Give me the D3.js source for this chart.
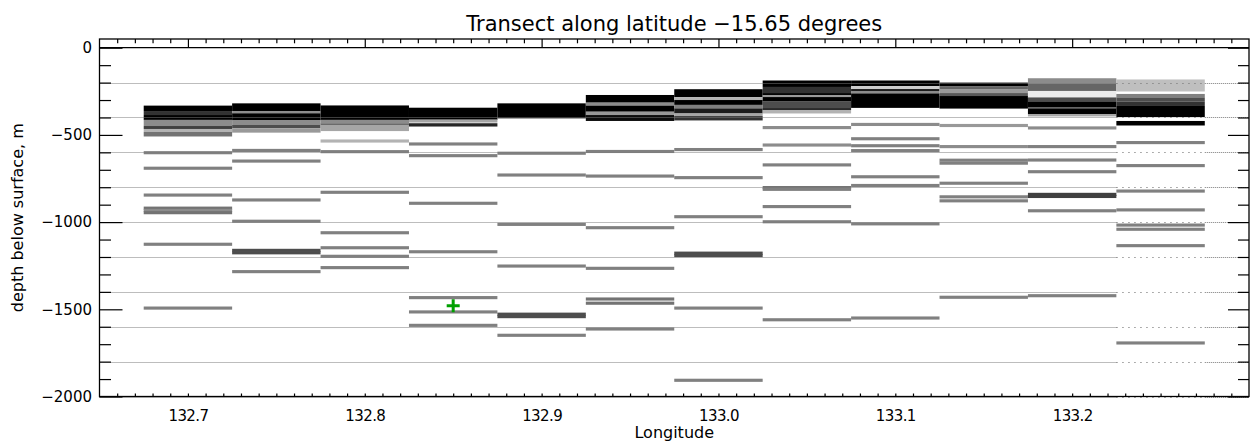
<!DOCTYPE html>
<html>
<head>
<meta charset="utf-8">
<script src="https://cdn.jsdelivr.net/npm/d3@7"></script>
<style>
  body { margin: 0; background: #fff; }
  svg text { font-family: "DejaVu Sans", sans-serif; fill: #000; }
</style>
</head>
<body>
<div id="chart-container"></div>
<script>
'use strict';

// column centres (degrees east), each column is 0.05 deg wide
const longitudes = [132.70, 132.75, 132.80, 132.85, 132.90, 132.95,
  133.00, 133.05, 133.10, 133.15, 133.20, 133.25];

// dense upper layers per column: [top depth, bottom depth, shade 0..1]
const upperBands = [
  [[-332, -363, 1], [-363, -386, 0.8], [-386, -414, 1], [-414, -449, 0.45], [-449, -466, 0.75], [-466, -483, 0.3], [-483, -509, 0.55]],
  [[-319, -363, 1], [-363, -376, 0.45], [-376, -417, 1], [-417, -443, 0.45], [-443, -462, 0.7], [-462, -487, 0.4]],
  [[-331, -414, 1], [-414, -433, 0.45], [-433, -443, 0.6], [-443, -478, 0.35]],
  [[-344, -414, 1], [-433, -452, 0.85]],
  [[-319, -405, 1]],
  [[-271, -315, 1], [-315, -332, 0.45], [-332, -367, 1], [-367, -386, 0.4], [-386, -420, 0.95]],
  [[-238, -283, 1], [-283, -300, 0.3], [-300, -328, 1], [-328, -348, 0.5], [-348, -377, 0.9], [-377, -392, 0.35], [-392, -417, 0.8]],
  [[-188, -225, 1], [-225, -260, 0.8], [-260, -271, 1], [-271, -283, 0.4], [-283, -306, 1], [-306, -346, 0.7], [-346, -357, 0.85], [-357, -377, 0.3]],
  [[-188, -220, 1], [-220, -237, 0.2], [-237, -251, 0.9], [-251, -262, 0.45], [-262, -345, 1]],
  [[-200, -220, 1], [-220, -237, 0.6], [-237, -260, 0.4], [-260, -277, 0.65], [-277, -349, 1]],
  [[-175, -208, 0.45], [-208, -248, 0.6], [-248, -285, 0.08], [-285, -308, 0.7], [-308, -340, 1], [-340, -348, 0.6], [-348, -380, 1], [-380, -394, 0.35]],
  [[-182, -251, 0.25], [-265, -285, 0.5], [-285, -308, 0.7], [-308, -334, 0.8], [-334, -398, 1], [-420, -446, 1]]
];

// single deeper layers per column: [depth, shade 0..1]
const deepLayers = [
  [[-602, 0.5], [-691, 0.5], [-845, 0.5], [-920, 0.55], [-933, 0.45], [-946, 0.55], [-1127, 0.5], [-1493, 0.5]],
  [[-589, 0.5], [-650, 0.5], [-873, 0.5], [-995, 0.5], [-1162, 0.7], [-1176, 0.7], [-1284, 0.5]],
  [[-535, 0.3], [-596, 0.5], [-829, 0.5], [-1061, 0.5], [-1147, 0.5], [-1196, 0.5], [-1261, 0.5]],
  [[-420, 0.35], [-552, 0.5], [-619, 0.5], [-892, 0.5], [-1170, 0.5], [-1433, 0.5], [-1515, 0.5], [-1592, 0.5]],
  [[-605, 0.5], [-730, 0.5], [-1013, 0.5], [-1252, 0.5], [-1528, 0.7], [-1542, 0.7], [-1649, 0.5]],
  [[-595, 0.5], [-736, 0.5], [-1032, 0.5], [-1265, 0.5], [-1441, 0.55], [-1465, 0.55], [-1613, 0.5]],
  [[-584, 0.5], [-745, 0.5], [-969, 0.5], [-1178, 0.7], [-1192, 0.7], [-1493, 0.5], [-1907, 0.5]],
  [[-458, 0.45], [-558, 0.45], [-672, 0.5], [-802, 0.55], [-812, 0.5], [-911, 0.5], [-998, 0.5], [-1560, 0.5]],
  [[-440, 0.45], [-522, 0.5], [-562, 0.5], [-590, 0.5], [-740, 0.5], [-790, 0.5], [-1010, 0.5], [-1550, 0.5]],
  [[-446, 0.4], [-567, 0.45], [-645, 0.5], [-662, 0.5], [-777, 0.5], [-855, 0.5], [-878, 0.5], [-1431, 0.5]],
  [[-460, 0.45], [-567, 0.5], [-644, 0.5], [-711, 0.5], [-841, 0.75], [-853, 0.75], [-935, 0.5], [-1422, 0.5]],
  [[-544, 0.5], [-676, 0.5], [-822, 0.5], [-930, 0.5], [-1017, 0.5], [-1041, 0.5], [-1135, 0.5], [-1693, 0.5]]
];

// green marker
const markerLon = 132.85;
const markerDepth = -1479;

// axis ticks
const lonMajor = [132.7, 132.8, 132.9, 133.0, 133.1, 133.2];
const depthMajor = [0, -500, -1000, -1500, -2000];
const gridDepths = [-200, -400, -600, -800, -1000, -1200, -1400, -1600, -1800, -2000];

const titleText = 'Transect along latitude \u221215.65 degrees';

var width = 1250;
var height = 443;
var pLeft = 99.5, pRight = 1249, pTop = 39, pBottom = 396.5;
var colHalf = 0.025;
var lineHalf = 9;

var x = d3.scaleLinear().domain([132.65, 133.30]).range([pLeft, pRight]);
var y = d3.scaleLinear().domain([-2000, 50]).range([pBottom, pTop]);
var shade = d3.scaleLinear().domain([0, 1]).range(['#ffffff', '#000000']);

var lonMinor = d3.range(132.66, 133.295, 0.01).map(v => +v.toFixed(2))
  .filter(v => !lonMajor.some(m => Math.abs(m - v) < 1e-6));
var depthMinor = d3.range(-100, -2000, -100).filter(v => v % 500 !== 0);

var svg = d3.select('#chart-container')
  .append('svg')
  .attr('width', width)
  .attr('height', height);

var defs = svg.append('defs');
defs.append('filter')
  .attr('id', 'soft')
  .attr('filterUnits', 'userSpaceOnUse')
  .attr('x', 0).attr('y', 0).attr('width', width).attr('height', height)
  .append('feGaussianBlur')
  .attr('stdDeviation', '0 0.7');

// layers
var layers = svg.append('g').attr('filter', 'url(#soft)');

longitudes.forEach(function(lon, i) {
  var x0 = x(lon - colHalf), x1 = x(lon + colHalf);

  layers.append('g').selectAll('rect')
    .data(upperBands[i])
    .enter()
    .append('rect')
    .attr('x', x0)
    .attr('width', x1 - x0)
    .attr('y', d => y(d[0]))
    .attr('height', d => y(d[1]) - y(d[0]))
    .attr('fill', d => shade(d[2]));

  layers.append('g').selectAll('rect')
    .data(deepLayers[i])
    .enter()
    .append('rect')
    .attr('x', x0)
    .attr('width', x1 - x0)
    .attr('y', d => y(d[0] + lineHalf))
    .attr('height', d => y(d[0] - lineHalf) - y(d[0] + lineHalf))
    .attr('fill', d => shade(d[1]));
});

// dotted grid lines, sparser over the last column
var sparseFrom = x(longitudes[11] - colHalf), sparseTo = x(longitudes[11] + colHalf);
var grid = svg.append('g').attr('stroke', '#7a7a7a').attr('stroke-width', 1);
gridDepths.forEach(function(d) {
  var yy = Math.round(y(d)) + 0.5;
  grid.append('line').attr('x1', pLeft).attr('x2', sparseFrom).attr('y1', yy).attr('y2', yy)
    .attr('stroke-dasharray', '1,1');
  grid.append('line').attr('x1', sparseFrom).attr('x2', sparseTo).attr('y1', yy).attr('y2', yy)
    .attr('stroke-dasharray', '1.2,4.8');
  grid.append('line').attr('x1', sparseTo).attr('x2', pRight).attr('y1', yy).attr('y2', yy)
    .attr('stroke-dasharray', '1,1');
});

// surface line
svg.append('line')
  .attr('x1', pLeft).attr('x2', pRight)
  .attr('y1', y(0)).attr('y2', y(0))
  .attr('stroke', '#000').attr('stroke-width', 1.2);

// marker
var mx = x(markerLon), my = y(markerDepth);
svg.append('path')
  .attr('d', 'M' + (mx - 6.5) + ',' + my + 'H' + (mx + 6.5) + 'M' + mx + ',' + (my - 6.5) + 'V' + (my + 6.5))
  .attr('stroke', '#00a000')
  .attr('stroke-width', 3)
  .attr('fill', 'none');

// axes
function addAxis(axis, tx, ty) {
  var g = svg.append('g')
    .attr('transform', 'translate(' + tx + ',' + ty + ')')
    .call(axis);
  g.select('.domain').remove();
  g.selectAll('line').attr('stroke', '#000').attr('stroke-width', 1.2);
  return g;
}

// top: ticks point down
addAxis(d3.axisBottom(x).tickValues(lonMinor).tickSize(4.3).tickFormat(''), 0, pTop);
addAxis(d3.axisBottom(x).tickValues(lonMajor).tickSize(8.7).tickFormat(''), 0, pTop);
// bottom: short ticks up
addAxis(d3.axisTop(x).tickValues(lonMinor.concat(lonMajor)).tickSize(3).tickFormat(''), 0, pBottom);
var xl = addAxis(d3.axisBottom(x).tickValues(lonMajor).tickSize(0).tickPadding(14)
  .tickFormat(d3.format('.1f')), 0, pBottom);
xl.selectAll('text').style('font-size', '15px').attr('letter-spacing', '-0.6');

// left: ticks point right
addAxis(d3.axisRight(y).tickValues(depthMinor).tickSize(11.5).tickFormat(''), pLeft, 0);
addAxis(d3.axisRight(y).tickValues(depthMajor).tickSize(23).tickFormat(''), pLeft, 0);
var yl = addAxis(d3.axisLeft(y).tickValues(depthMajor).tickSize(0).tickPadding(7.5)
  .tickFormat(d3.format('d')), pLeft, 0);
yl.selectAll('text').style('font-size', '15px');

// right: ticks point left
addAxis(d3.axisLeft(y).tickValues(depthMinor).tickSize(11).tickFormat(''), pRight, 0);
addAxis(d3.axisLeft(y).tickValues(depthMajor).tickSize(21).tickFormat(''), pRight, 0);

// frame
svg.append('rect')
  .attr('x', pLeft).attr('y', pTop)
  .attr('width', pRight - pLeft).attr('height', pBottom - pTop)
  .attr('fill', 'none')
  .attr('stroke', '#000')
  .attr('stroke-width', 1.3);

// titles
svg.append('text')
  .attr('x', (pLeft + pRight) / 2)
  .attr('y', 30.7)
  .attr('text-anchor', 'middle')
  .style('font-size', '21px')
  .text(titleText);

svg.append('text')
  .attr('x', (pLeft + pRight) / 2)
  .attr('y', 438)
  .attr('text-anchor', 'middle')
  .style('font-size', '16px')
  .text('Longitude');

svg.append('text')
  .attr('transform', 'translate(23,' + ((pTop + pBottom) / 2) + ') rotate(-90)')
  .attr('text-anchor', 'middle')
  .style('font-size', '16px')
  .text('depth below surface, m');
</script>
</body>
</html>
